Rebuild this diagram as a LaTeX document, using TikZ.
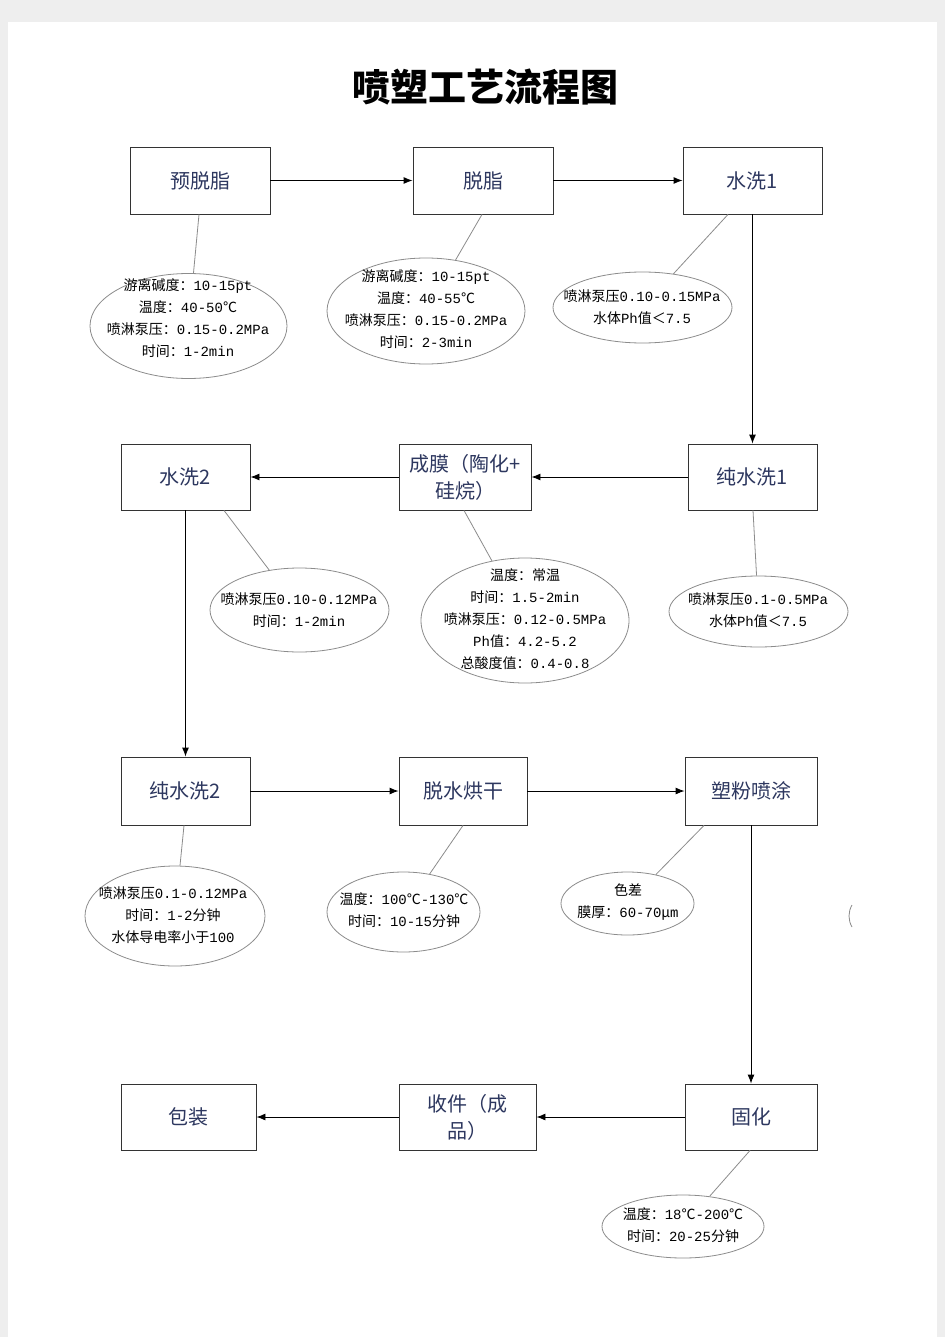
\documentclass[tikz,border=0pt]{standalone}
\usepackage{fontspec}
\setmainfont{Liberation Mono}
\newfontfamily\cjk{Noto Sans CJK SC}
\usetikzlibrary{shapes.geometric,arrows.meta,calc}
\definecolor{boxtext}{RGB}{45,55,95}
\definecolor{ellline}{RGB}{140,140,140}
\definecolor{pagebg}{RGB}{238,238,238}
\tikzset{
  stepbox/.style={draw=black!80,line width=0.9pt,fill=white,inner sep=2pt,align=center,
    text=boxtext,font=\cjk\fontsize{20}{27}\selectfont},
  note/.style={ellipse,draw=ellline,line width=0.8pt,inner sep=0pt},
  notetext/.style={inner sep=0pt,align=center,font=\fontsize{14}{22}\selectfont},
  flow/.style={draw=black,line width=0.9pt,-{Latex[length=9pt,width=7pt]}},
  conn/.style={draw=ellline,line width=0.8pt},
}
\newcommand{\cj}[1]{{\cjk #1}}
\begin{document}
\begin{tikzpicture}[x=1pt,y=-1pt]
\fill[pagebg] (0,0) rectangle (945,1337);
\fill[white] (8,22) rectangle (937,1337);
\useasboundingbox (0,0) rectangle (945,1337);

\node[font=\cjk\bfseries\fontsize{38}{42}\selectfont] (title) at (485,87) {喷塑工艺流程图};

% row 1
\node[stepbox,minimum width=140pt,minimum height=67pt] (b1) at (200,180.5) {预脱脂};
\node[stepbox,minimum width=140pt,minimum height=67pt] (b2) at (483,180.5) {脱脂};
\node[stepbox,minimum width=139pt,minimum height=67pt] (b3) at (752.5,180.5) {水洗1};
% row 2
\node[stepbox,minimum width=129pt,minimum height=66pt] (b4) at (185.5,477) {水洗2};
\node[stepbox,minimum width=132pt,minimum height=66pt] (b5) at (465,477) {成膜（陶化+\\硅烷）};
\node[stepbox,minimum width=129pt,minimum height=66pt] (b6) at (752.5,477) {纯水洗1};
% row 3
\node[stepbox,minimum width=129pt,minimum height=68pt] (b7) at (185.5,791) {纯水洗2};
\node[stepbox,minimum width=128pt,minimum height=68pt] (b8) at (463,791) {脱水烘干};
\node[stepbox,minimum width=132pt,minimum height=68pt] (b9) at (751,791) {塑粉喷涂};
% row 4
\node[stepbox,minimum width=135pt,minimum height=66pt] (b10) at (188.5,1117) {包装};
\node[stepbox,minimum width=137pt,minimum height=66pt] (b11) at (467.5,1117) {收件（成\\品）};
\node[stepbox,minimum width=132pt,minimum height=66pt] (b12) at (751,1117) {固化};

% flow arrows
\draw[flow] (b1) -- (b2);
\draw[flow] (b2) -- (b3);
\draw[flow] (b3) -- (b6);
\draw[flow] (b6) -- (b5);
\draw[flow] (b5) -- (b4);
\draw[flow] (b4) -- (b7);
\draw[flow] (b7) -- (b8);
\draw[flow] (b8) -- (b9);
\draw[flow] (b9) -- (b12);
\draw[flow] (b12) -- (b11);
\draw[flow] (b11) -- (b10);

% note ellipses
\node[note,minimum width=197pt,minimum height=105pt] (e1) at (188.5,326) {};
\node[note,minimum width=198pt,minimum height=106pt] (e2) at (426,311) {};
\node[note,minimum width=179pt,minimum height=71pt] (e3) at (642.5,307.5) {};
\node[note,minimum width=179pt,minimum height=84pt] (e4) at (299.5,610) {};
\node[note,minimum width=208pt,minimum height=125pt] (e5) at (525,620.5) {};
\node[note,minimum width=179pt,minimum height=71pt] (e6) at (758.5,611.5) {};
\node[note,minimum width=180pt,minimum height=100pt] (e7) at (175,916) {};
\node[note,minimum width=153pt,minimum height=80pt] (e8) at (403.5,912) {};
\node[note,minimum width=133pt,minimum height=63pt] (e9) at (627.5,903.5) {};
\node[note,minimum width=162pt,minimum height=63pt] (e10) at (683,1226.5) {};

% note texts
\node[notetext] (t1) at (188,318) {%
\cj{游离碱度：}10-15pt\\\cj{温度：}40-50\cj{℃}\\\cj{喷淋泵压：}0.15-0.2MPa\\\cj{时间：}1-2min};
\node[notetext] (t2) at (426,309) {%
\cj{游离碱度：}10-15pt\\\cj{温度：}40-55\cj{℃}\\\cj{喷淋泵压：}0.15-0.2MPa\\\cj{时间：}2-3min};
\node[notetext] (t3) at (642,307) {%
\cj{喷淋泵压}0.10-0.15MPa\\\cj{水体}Ph\cj{值＜}7.5};
\node[notetext] (t4) at (299,610) {%
\cj{喷淋泵压}0.10-0.12MPa\\\cj{时间：}1-2min};
\node[notetext] (t5) at (525,619) {%
\cj{温度：常温}\\\cj{时间：}1.5-2min\\\cj{喷淋泵压：}0.12-0.5MPa\\Ph\cj{值：}4.2-5.2\\\cj{总酸度值：}0.4-0.8};
\node[notetext] (t6) at (758,610) {%
\cj{喷淋泵压}0.1-0.5MPa\\\cj{水体}Ph\cj{值＜}7.5};
\node[notetext] (t7) at (173,915) {%
\cj{喷淋泵压}0.1-0.12MPa\\\cj{时间：}1-2\cj{分钟}\\\cj{水体导电率小于}100};
\node[notetext] (t8) at (404,910) {%
\cj{温度：}100\cj{℃}-130\cj{℃}\\\cj{时间：}10-15\cj{分钟}};
\node[notetext] (t9) at (628,902) {%
\cj{色差}\\\cj{膜厚：}60-70\cj{μ}m};
\node[notetext] (t10) at (683,1225) {%
\cj{温度：}18\cj{℃}-200\cj{℃}\\\cj{时间：}20-25\cj{分钟}};

% callout connectors
\draw[conn] (b1.south -| 199,0) -- (e1);
\draw[conn] (b2.south -| 482,0) -- (e2);
\draw[conn] (b3.south -| 728,0) -- (e3);
\draw[conn] (b4.south -| 224,0) -- (e4);
\draw[conn] (b5.south -| 464,0) -- (e5);
\draw[conn] (b6.south -| 753,0) -- (e6);
\draw[conn] (b7.south -| 184,0) -- (e7);
\draw[conn] (b8.south -| 463,0) -- (e8);
\draw[conn] (b9.south -| 704,0) -- (e9);
\draw[conn] (b12.south -| 750,0) -- (e10);

% stray arc fragment
\draw[conn] (852,905) .. controls (848,912) and (848,920) .. (852,927);
\end{tikzpicture}
\end{document}
